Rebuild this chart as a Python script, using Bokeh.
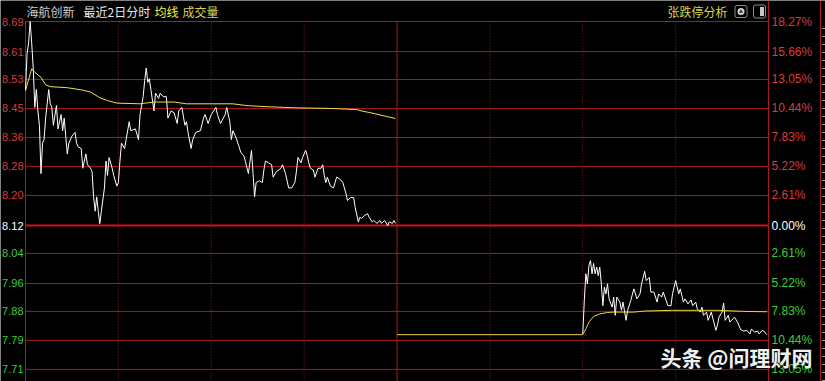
from bokeh.plotting import figure
from bokeh.models import Range1d, ColumnDataSource
from bokeh.core.properties import value
from bokeh.embed import file_html
from bokeh.resources import INLINE

# ---------------- data ----------------
# day 1 (minutes 0..239) last price
d1_min = [0, 1, 2, 3, 4, 5, 6, 7, 8, 9,
          10, 11, 12, 13, 15, 16, 17, 18, 20, 21,
          23, 24, 25, 27, 28, 30, 32, 33, 34, 36,
          37, 39, 40, 42, 43, 44, 45, 46, 47, 48,
          49, 51, 52, 53, 54, 56, 57, 59, 60, 61,
          62, 64, 65, 67, 68, 71, 73, 74, 76, 77,
          78, 79, 80, 81, 83, 84, 86, 87, 89, 91,
          92, 94, 96, 98, 99, 101, 103, 104, 105, 107,
          108, 110, 113, 115, 116, 118, 120, 123, 124, 126,
          129, 130, 132, 133, 134, 136, 138, 139, 141, 142,
          144, 146, 147, 148, 149, 151, 153, 154, 155, 157,
          159, 160, 162, 165, 166, 168, 170, 172, 174, 175,
          176, 178, 179, 181, 182, 183, 184, 186, 187, 189,
          191, 192, 193, 194, 195, 197, 199, 200, 201, 203,
          205, 207, 208, 210, 212, 213, 215, 216, 217, 219,
          221, 222, 224, 225, 227, 229, 230, 232, 234, 235,
          237, 238, 239]
d1_price = [8.497, 8.600, 8.630, 8.690, 8.630, 8.560, 8.450, 8.500, 8.440, 8.400,
            8.265, 8.350, 8.360, 8.420, 8.500, 8.460, 8.450, 8.400, 8.455, 8.390,
            8.430, 8.385, 8.420, 8.320, 8.350, 8.370, 8.380, 8.350, 8.340, 8.335,
            8.280, 8.320, 8.290, 8.280, 8.270, 8.200, 8.160, 8.200, 8.160, 8.125,
            8.160, 8.225, 8.300, 8.260, 8.310, 8.280, 8.260, 8.230, 8.240, 8.300,
            8.350, 8.335, 8.360, 8.410, 8.385, 8.390, 8.360, 8.430, 8.480, 8.525,
            8.560, 8.520, 8.530, 8.500, 8.440, 8.490, 8.475, 8.490, 8.480, 8.480,
            8.420, 8.440, 8.435, 8.405, 8.440, 8.450, 8.400, 8.410, 8.380, 8.335,
            8.360, 8.380, 8.385, 8.420, 8.430, 8.405, 8.430, 8.450, 8.430, 8.405,
            8.430, 8.450, 8.410, 8.360, 8.385, 8.365, 8.340, 8.325, 8.315, 8.300,
            8.265, 8.330, 8.265, 8.200, 8.240, 8.245, 8.240, 8.275, 8.300, 8.295,
            8.290, 8.255, 8.270, 8.280, 8.290, 8.265, 8.225, 8.225, 8.240, 8.270,
            8.310, 8.295, 8.310, 8.330, 8.315, 8.295, 8.280, 8.275, 8.255, 8.280,
            8.280, 8.290, 8.260, 8.240, 8.255, 8.230, 8.225, 8.240, 8.255, 8.250,
            8.240, 8.210, 8.190, 8.198, 8.198, 8.170, 8.130, 8.143, 8.140, 8.148,
            8.153, 8.143, 8.130, 8.134, 8.126, 8.134, 8.126, 8.134, 8.120, 8.130,
            8.126, 8.134, 8.126]

# day 1 average price
a1_min = [0, 4, 6, 10, 13, 16, 27, 36, 42, 48,
          53, 59, 74, 83, 96, 104, 134, 143, 156, 173,
          198, 214, 218, 222, 227, 231, 235, 239]
a1_price = [8.497, 8.558, 8.548, 8.534, 8.513, 8.508, 8.505, 8.499, 8.493, 8.477,
            8.469, 8.462, 8.460, 8.465, 8.465, 8.460, 8.460, 8.455, 8.452, 8.449,
            8.447, 8.444, 8.439, 8.436, 8.431, 8.427, 8.423, 8.419]

# day 2 (minutes 240..479) last price
d2_min = [360, 361, 362, 363, 364, 365, 366, 367, 368, 369,
          370, 371, 372, 373, 374, 375, 376, 377, 379, 380,
          381, 382, 384, 385, 386, 388, 389, 391, 393, 395,
          397, 398, 400, 401, 403, 404, 406, 408, 409, 411,
          412, 415, 417, 418, 420, 422, 423, 425, 426, 428,
          430, 431, 433, 434, 436, 437, 438, 440, 441, 443,
          445, 446, 447, 448, 450, 451, 452, 454, 455, 457,
          458, 460, 462, 464, 466, 468, 469, 471, 473, 474,
          476, 477, 479]
d2_price = [7.817, 7.910, 7.985, 7.957, 8.008, 8.022, 7.985, 8.014, 7.985, 8.004,
            7.980, 8.004, 7.957, 7.896, 7.948, 7.929, 7.957, 7.915, 7.892, 7.920,
            7.869, 7.920, 7.906, 7.883, 7.906, 7.855, 7.883, 7.910, 7.943, 7.915,
            7.929, 7.957, 7.992, 7.966, 7.975, 7.934, 7.934, 7.906, 7.929, 7.920,
            7.934, 7.896, 7.896, 7.929, 7.966, 7.929, 7.943, 7.906, 7.915, 7.901,
            7.912, 7.896, 7.906, 7.887, 7.878, 7.892, 7.869, 7.878, 7.855, 7.878,
            7.845, 7.827, 7.841, 7.864, 7.878, 7.903, 7.855, 7.869, 7.850, 7.859,
            7.864, 7.850, 7.829, 7.825, 7.827, 7.817, 7.831, 7.822, 7.825, 7.817,
            7.827, 7.825, 7.815]

# day 2 average price
a2_min = [240, 360, 362, 364, 367, 371, 376, 380, 393, 400, 418, 447, 464, 479]
a2_price = [7.815, 7.815, 7.831, 7.850, 7.866, 7.873, 7.877, 7.878, 7.878, 7.881,
            7.883, 7.883, 7.880, 7.879]

# axis levels and labels
grid_levels = [8.690, 8.606, 8.528, 8.447, 8.366, 8.285, 8.204, 8.120,
               8.042, 7.958, 7.880, 7.799, 7.718]
base_level = 8.120
price_labels = ["8.69", "8.61", "8.53", "8.45", "8.36", "8.28", "8.20", "8.12",
                "8.04", "7.96", "7.88", "7.79", "7.71"]
pct_labels = ["18.27%", "15.66%", "13.05%", "10.44%", "7.83%", "5.22%", "2.61%",
              "0.00%", "2.61%", "5.22%", "7.83%", "10.44%", "13.05%"]
session_ticks = [0, 60, 120, 180, 240, 300, 360, 420, 480]

# ---------------- layout helpers (pixel -> data) ----------------
W, H = 825, 381
PX_PER_MIN = (768 - 25) / 480.0
PX_PER_UNIT = 357.9
X_LEFT = -25 / PX_PER_MIN
Y_TOP = 8.69 + 21 / PX_PER_UNIT


def mx(px):
    return X_LEFT + px / PX_PER_MIN


def my(py):
    return Y_TOP - py / PX_PER_UNIT


p = figure(width=W, height=H, x_range=Range1d(mx(0), mx(W)),
           y_range=Range1d(my(H), my(0)), output_backend="svg",
           toolbar_location=None, x_axis_type=None, y_axis_type=None,
           min_border=0, min_border_left=0, min_border_right=0,
           min_border_top=0, min_border_bottom=0,
           background_fill_color="black", border_fill_color="black",
           outline_line_color=None)
p.grid.visible = False

RED = "#a51c1c"
bottom = my(H)
top_grid = grid_levels[0]

# horizontal grid
others = [g for g in grid_levels if g != base_level]
p.segment(x0=[session_ticks[0]] * len(others), x1=[session_ticks[-1]] * len(others),
          y0=others, y1=others, line_color=RED, line_width=1)
p.segment(x0=[session_ticks[0]], x1=[session_ticks[-1]], y0=[base_level], y1=[base_level],
          line_color="#d41212", line_width=2)

# vertical lines
dotted = [t for t in session_ticks if t % 240 != 0]
p.segment(x0=dotted, x1=dotted, y0=[top_grid] * len(dotted), y1=[bottom] * len(dotted),
          line_color="#8e2020", line_width=1, line_dash="1 2")
p.segment(x0=[0, 240], x1=[0, 240], y0=[top_grid] * 2, y1=[bottom] * 2,
          line_color=RED, line_width=1)
p.segment(x0=[480, mx(820)], x1=[480, mx(820)], y0=[my(0)] * 2, y1=[bottom] * 2,
          line_color=RED, line_width=1)
# small ticks of the adjacent panel
tick_y = [my(v) for v in range(28, H, 8)]
p.segment(x0=[mx(821.5)] * len(tick_y), x1=[mx(825)] * len(tick_y), y0=tick_y, y1=tick_y,
          line_color="#9a9a9a", line_width=1)

# price lines
p.line(d1_min, d1_price, line_color="white", line_width=1)
p.line(d2_min, d2_price, line_color="white", line_width=1)
p.line(a1_min, a1_price, line_color="#eee24a", line_width=1)
p.line(a2_min, a2_price, line_color="#f0d040", line_width=1)

# axis labels
n_up = price_labels.index("8.12")
colors = ["#d83c3c"] * n_up + ["#ffffff"] + ["#3ccc3c"] * (len(price_labels) - n_up - 1)
left_src = ColumnDataSource(dict(x=[mx(23)] * len(price_labels), y=grid_levels,
                                 text=price_labels, c=colors))
p.text(x="x", y="y", text="text", source=left_src, text_color="c",
       text_font=value("Liberation Sans"), text_font_size="11px",
       text_align="right", text_baseline="middle")
right_src = ColumnDataSource(dict(x=[mx(771)] * len(pct_labels), y=grid_levels,
                                  text=pct_labels, c=colors))
p.text(x="x", y="y", text="text", source=right_src, text_color="c",
       text_font=value("Liberation Sans"), text_font_size="12px",
       text_align="left", text_baseline="middle")

# header texts
CJK = value("Noto Sans CJK SC")
hy = my(11)
for txt, xpx, col in [("海航创新", 26, "#cfcfcf"), ("最近2日分时", 83, "#e8e8e8"),
                      ("均线", 154, "#f2f04c"), ("成交量", 182, "#d6d45c"),
                      ("张跌停分析", 667, "#d8d64c")]:
    p.text(x=[mx(xpx)], y=[hy], text=[txt], text_color=col, text_font=CJK,
           text_font_size="12px", text_align="left", text_baseline="middle")

# header icons
p.rect(x=[mx(740.5)], y=[my(11)], width=[12], height=[12], width_units="screen",
       height_units="screen", fill_color=None, line_color="#8c8c8c", line_width=1,
       border_radius=2)
p.scatter(x=[mx(740.5)], y=[my(11)], size=7, marker="circle", fill_color="#d0d0d0",
          line_color=None)
p.scatter(x=[mx(740.5)], y=[my(11)], size=4, marker="triangle", fill_color="#303030",
          line_color=None)
p.rect(x=[mx(759)], y=[my(11)], width=[12], height=[13], width_units="screen",
       height_units="screen", fill_color=None, line_color="#8c8c8c", line_width=1,
       border_radius=2)
p.rect(x=[mx(761.5)], y=[my(11)], width=[4], height=[9], width_units="screen",
       height_units="screen", fill_color="#c8c8c8", line_color=None)

# watermark
p.text(x=[mx(660)], y=[my(356)], text=["头条 @问理财网"], text_color="#f0f0f0",
       text_font=CJK, text_font_size="21px", text_align="left",
       text_baseline="middle", text_font_style="bold")

open("out.html", "w").write(file_html(p, INLINE))
